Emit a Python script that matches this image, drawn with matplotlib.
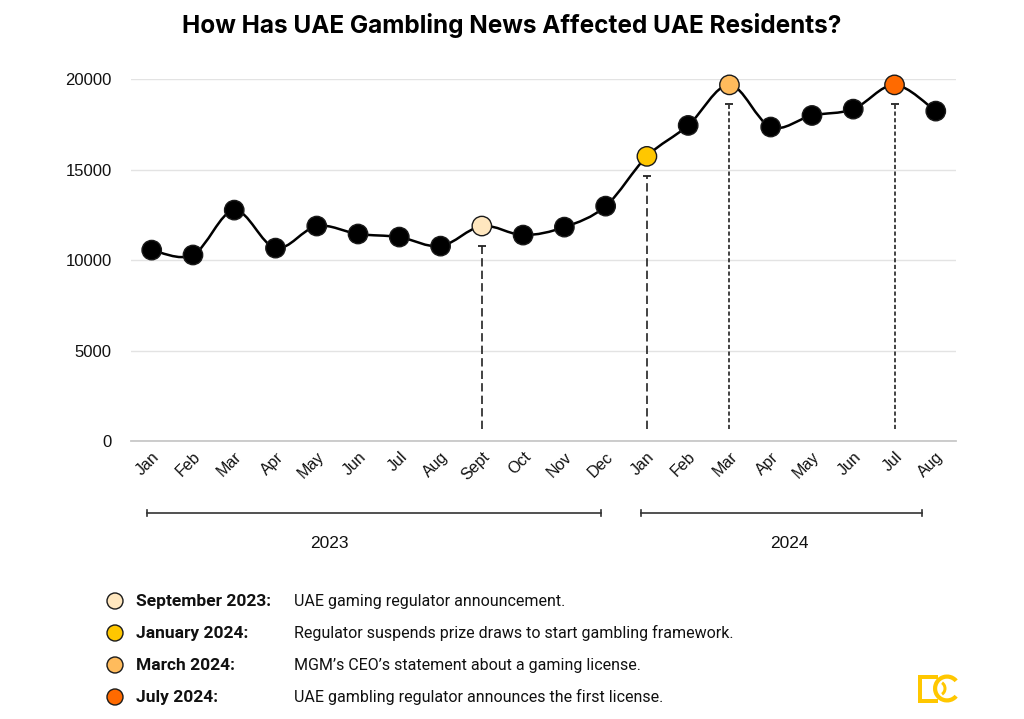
import numpy as np
import matplotlib
matplotlib.use('Agg')
import matplotlib.pyplot as plt
from matplotlib.path import Path
from matplotlib.patches import PathPatch, Ellipse, Wedge, Rectangle
import matplotlib.transforms as mtransforms

# Data
MONTHS = ['Jan', 'Feb', 'Mar', 'Apr', 'May', 'Jun', 'Jul', 'Aug', 'Sept', 'Oct', 'Nov', 'Dec',
          'Jan', 'Feb', 'Mar', 'Apr', 'May', 'Jun', 'Jul', 'Aug']
VALUES = [10550, 10280, 12760, 10660, 11880, 11440, 11270, 10770, 11880, 11380, 11820, 12980,
          15730, 17440, 19680, 17350, 17990, 18340, 19680, 18230]
YEARS = ['2023', '2024']

EVENT_IDX = [8, 12, 14, 18]
EVENT_COLORS = ['#FFE7BF', '#FFC700', '#FFBB5C', '#FF6A00']
EVENT_DATES = ['September 2023:', 'January 2024:', 'March 2024:', 'July 2024:']
EVENT_TEXT = ['UAE gaming regulator announcement.',
              'Regulator suspends prize draws to start gambling framework.',
              "MGM\u2019s CEO\u2019s statement about a gaming license.",
              'UAE gambling regulator announces the first license.']
EVENT_STYLES = [(0, (5, 2.5)), (0, (5, 2.5)), (0, (2.5, 1.5)), (0, (2.5, 1.5))]

TEXT = '#111111'
FONT = ['Liberation Sans', 'DejaVu Sans']
LEG_FONT = ['Roboto', 'DejaVu Sans']
LOGO = '#FFC700'


def smooth_path(x, y, t=0.5):
    # catmull-rom through the data points, as cubic bezier segments
    x = np.asarray(x, float)
    y = np.asarray(y, float)
    px = np.concatenate([[x[0]], x, [x[-1]]])
    py = np.concatenate([[y[0]], y, [y[-1]]])
    verts = [(x[0], y[0])]
    codes = [Path.MOVETO]
    for i in range(1, len(px) - 2):
        c1 = (px[i] + (px[i + 1] - px[i - 1]) * t / 3, py[i] + (py[i + 1] - py[i - 1]) * t / 3)
        c2 = (px[i + 1] - (px[i + 2] - px[i]) * t / 3, py[i + 1] - (py[i + 2] - py[i]) * t / 3)
        verts += [c1, c2, (px[i + 1], py[i + 1])]
        codes += [Path.CURVE4] * 3
    return Path(verts, codes)


fig = plt.figure(figsize=(10.24, 7.19), dpi=100)
ax = fig.add_axes([0.128, 0.3866, 0.806, 0.5034])

x = np.arange(len(VALUES))
ax.add_patch(PathPatch(smooth_path(x, VALUES), fill=False, lw=1.8, ec='black', zorder=3))

colors = ['black'] * len(VALUES)
for i, c in zip(EVENT_IDX, EVENT_COLORS):
    colors[i] = c
ax.scatter(x, VALUES, s=195, c=colors, edgecolors='#1a1a1a', linewidths=1.0,
           zorder=4, clip_on=False)

# dashed drop lines under the event points
for i, ls in zip(EVENT_IDX, EVENT_STYLES):
    top = VALUES[i] - 1080
    ax.plot([i, i], [650, top], color='#222222', lw=1.2, ls=ls, zorder=2)
    ax.plot([i], [top], marker='_', ms=6, mew=1.3, color='#222222', zorder=2)

ax.set_xlim(-0.5, len(VALUES) - 0.5)
ax.set_ylim(0, 20000)
ax.set_yticks([0, 5000, 10000, 15000, 20000])
ax.set_xticks(x)
ax.set_xticklabels(MONTHS, rotation=45, ha='right', va='top', rotation_mode='anchor',
                   family=FONT, fontsize=11.5, color=TEXT)
for lab in ax.get_yticklabels():
    lab.set_family(FONT)
    lab.set_fontsize(12)
    lab.set_color(TEXT)
ax.tick_params(axis='both', length=0)
ax.tick_params(axis='x', pad=6)
ax.tick_params(axis='y', pad=14)
ax.grid(axis='y', color='#e3e3e3', lw=1.0)
ax.set_axisbelow(True)
for s in ['top', 'right', 'left']:
    ax.spines[s].set_visible(False)
ax.spines['bottom'].set_color('#c8c8c8')
ax.spines['bottom'].set_linewidth(1.3)

# year brackets below the month labels
trans = mtransforms.blended_transform_factory(ax.transData, ax.transAxes)
for (x0, x1, xt), yr in zip([(-0.12, 10.88, 4.31), (11.85, 18.66, 15.46)], YEARS):
    ax.plot([x0, x1], [-0.199, -0.199], color='#333333', lw=1.2, transform=trans, clip_on=False)
    for xe in (x0, x1):
        ax.plot([xe, xe], [-0.207, -0.191], color='#333333', lw=1.2, transform=trans, clip_on=False)
    ax.text(xt, -0.282, yr, transform=trans, ha='center', va='center',
            family=FONT, fontsize=12.5, color=TEXT)

fig.text(0.5, 0.964, 'How Has UAE Gambling News Affected UAE Residents?', ha='center', va='center',
         family=['Inter', 'DejaVu Sans'], fontweight='bold', fontsize=17.5, color='black')

# legend of events
for k in range(len(EVENT_DATES)):
    yc = 601 + 32 * k
    yf = 1 - yc / 719
    yb = 1 - (yc + 5) / 719
    fig.patches.append(Ellipse((115 / 1024, yf), 16 / 1024, 16 / 719,
                               transform=fig.transFigure, fc=EVENT_COLORS[k],
                               ec='#1a1a1a', lw=1.0))
    fig.text(136 / 1024, yb, EVENT_DATES[k], ha='left', va='baseline', family=LEG_FONT,
             fontweight='bold', fontsize=12.5, color=TEXT)
    fig.text(294 / 1024, yb, EVENT_TEXT[k], ha='left', va='baseline', family=LEG_FONT,
             fontsize=11.5, color=TEXT)

# logo, drawn in pixel units (y down)
lax = fig.add_axes([905 / 1024, 1 - 710 / 719, 60 / 1024, 45 / 719])
lax.set_xlim(905, 965)
lax.set_ylim(710, 665)
lax.axis('off')
lax.add_patch(Rectangle((917.5, 674.5), 4.5, 28, fc=LOGO, ec='none'))
lax.add_patch(Rectangle((917.5, 674.5), 20, 4, fc=LOGO, ec='none'))
lax.add_patch(Rectangle((917.5, 698.5), 20, 4, fc=LOGO, ec='none'))
lax.add_patch(Wedge((947, 688.5), 14, 40, 320, width=4.2, fc=LOGO, ec='none'))
lax.add_patch(Wedge((938, 688.5), 8.5, -55, 55, width=3.0, fc=LOGO, ec='none'))

fig.savefig('out.png', dpi=100)
